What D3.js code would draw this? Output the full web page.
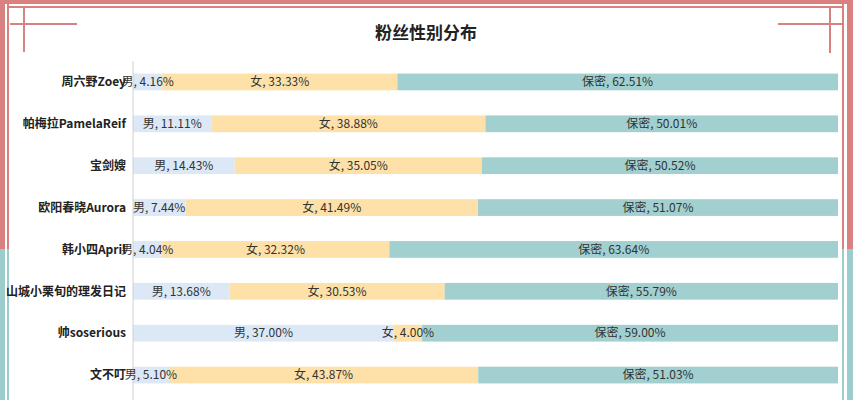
<!DOCTYPE html>
<html><head><meta charset="utf-8">
<script src="https://cdn.jsdelivr.net/npm/d3@7"></script>
<style>body{margin:0;background:#fff;font-family:"Noto Sans CJK SC","Noto Sans",sans-serif;}</style>
</head><body><svg id="chart" width="853" height="400"></svg>
<script>
const names = ["周六野Zoey", "帕梅拉PamelaReif", "宝剑嫂", "欧阳春晓Aurora", "韩小四April", "山城小栗旬的理发日记", "帅soserious", "文不叮"];
const male = [4.16, 11.11, 14.43, 7.44, 4.04, 13.68, 37.00, 5.10];
const female = [33.33, 38.88, 35.05, 41.49, 32.32, 30.53, 4.00, 43.87];
const secret = [62.51, 50.01, 50.52, 51.07, 63.64, 55.79, 59.00, 51.03];
const seriesNames = ["男", "女", "保密"];
const colors = ["#dce8f5", "#fde1a9", "#a2d0d0"];

const svg = d3.select("#chart");
const red = "#d98080", teal = "#9ccccc";

// frame
[[0, 249, red], [249, 400, teal]].forEach(([y0, y1, c]) => {
  svg.append("rect").attr("x", 0).attr("y", y0).attr("width", 5).attr("height", y1 - y0).attr("fill", c);
  svg.append("rect").attr("x", 7).attr("y", y0).attr("width", 2).attr("height", y1 - y0).attr("fill", c);
  svg.append("rect").attr("x", 847).attr("y", y0).attr("width", 6).attr("height", y1 - y0).attr("fill", c);
  svg.append("rect").attr("x", 842).attr("y", y0).attr("width", 2).attr("height", y1 - y0).attr("fill", c);
});
svg.append("rect").attr("x", 0).attr("y", 0).attr("width", 853).attr("height", 4).attr("fill", red);
svg.append("rect").attr("x", 7).attr("y", 6).attr("width", 837).attr("height", 2).attr("fill", red);
const cross = (x1, y1, x2, y2) => svg.append("line").attr("x1", x1).attr("y1", y1).attr("x2", x2).attr("y2", y2)
  .attr("stroke", red).attr("stroke-width", 2);
cross(10, 24, 77, 24); cross(24, 8, 24, 52);
cross(778, 24, 843, 24); cross(830, 8, 830, 53);

svg.append("text").attr("x", 426).attr("y", 39).attr("text-anchor", "middle")
  .attr("font-size", 17).attr("font-weight", "bold").attr("fill", "#222").text("粉丝性别分布");

const x = d3.scaleLinear().domain([0, 100]).range([133, 838]);
const y = d3.scaleBand().domain(names).range([61, 396]).paddingInner(0.6).paddingOuter(0.3);

const rows = names.map((n, i) => [male[i], female[i], secret[i]]);
const labels = [];
rows.forEach((vals, i) => {
  let acc = 0;
  vals.forEach((v, j) => {
    const x0 = x(acc), x1 = x(acc + v);
    svg.append("rect").attr("x", x0).attr("y", y(names[i])).attr("width", x1 - x0)
      .attr("height", y.bandwidth()).attr("fill", colors[j]);
    acc += v;
    labels.push({x: (x0 + x1) / 2, y: y(names[i]) + y.bandwidth() / 2, t: `${seriesNames[j]}, ${v.toFixed(2)}%`});
  });
});

svg.append("line").attr("x1", 133).attr("x2", 133).attr("y1", 61).attr("y2", 400)
  .attr("stroke", "#d0d0d0");

svg.append("g").selectAll("text").data(labels).join("text")
  .attr("x", d => d.x).attr("y", d => d.y).attr("dy", "0.35em").attr("text-anchor", "middle")
  .attr("font-size", 12).attr("fill", "#333").text(d => d.t);

svg.append("g").selectAll("text").data(names).join("text")
  .attr("x", 126).attr("y", d => y(d) + y.bandwidth() / 2).attr("dy", "0.35em")
  .attr("text-anchor", "end").attr("font-size", 12).attr("font-weight", "bold").attr("fill", "#222")
  .text(d => d);
</script></body></html>
